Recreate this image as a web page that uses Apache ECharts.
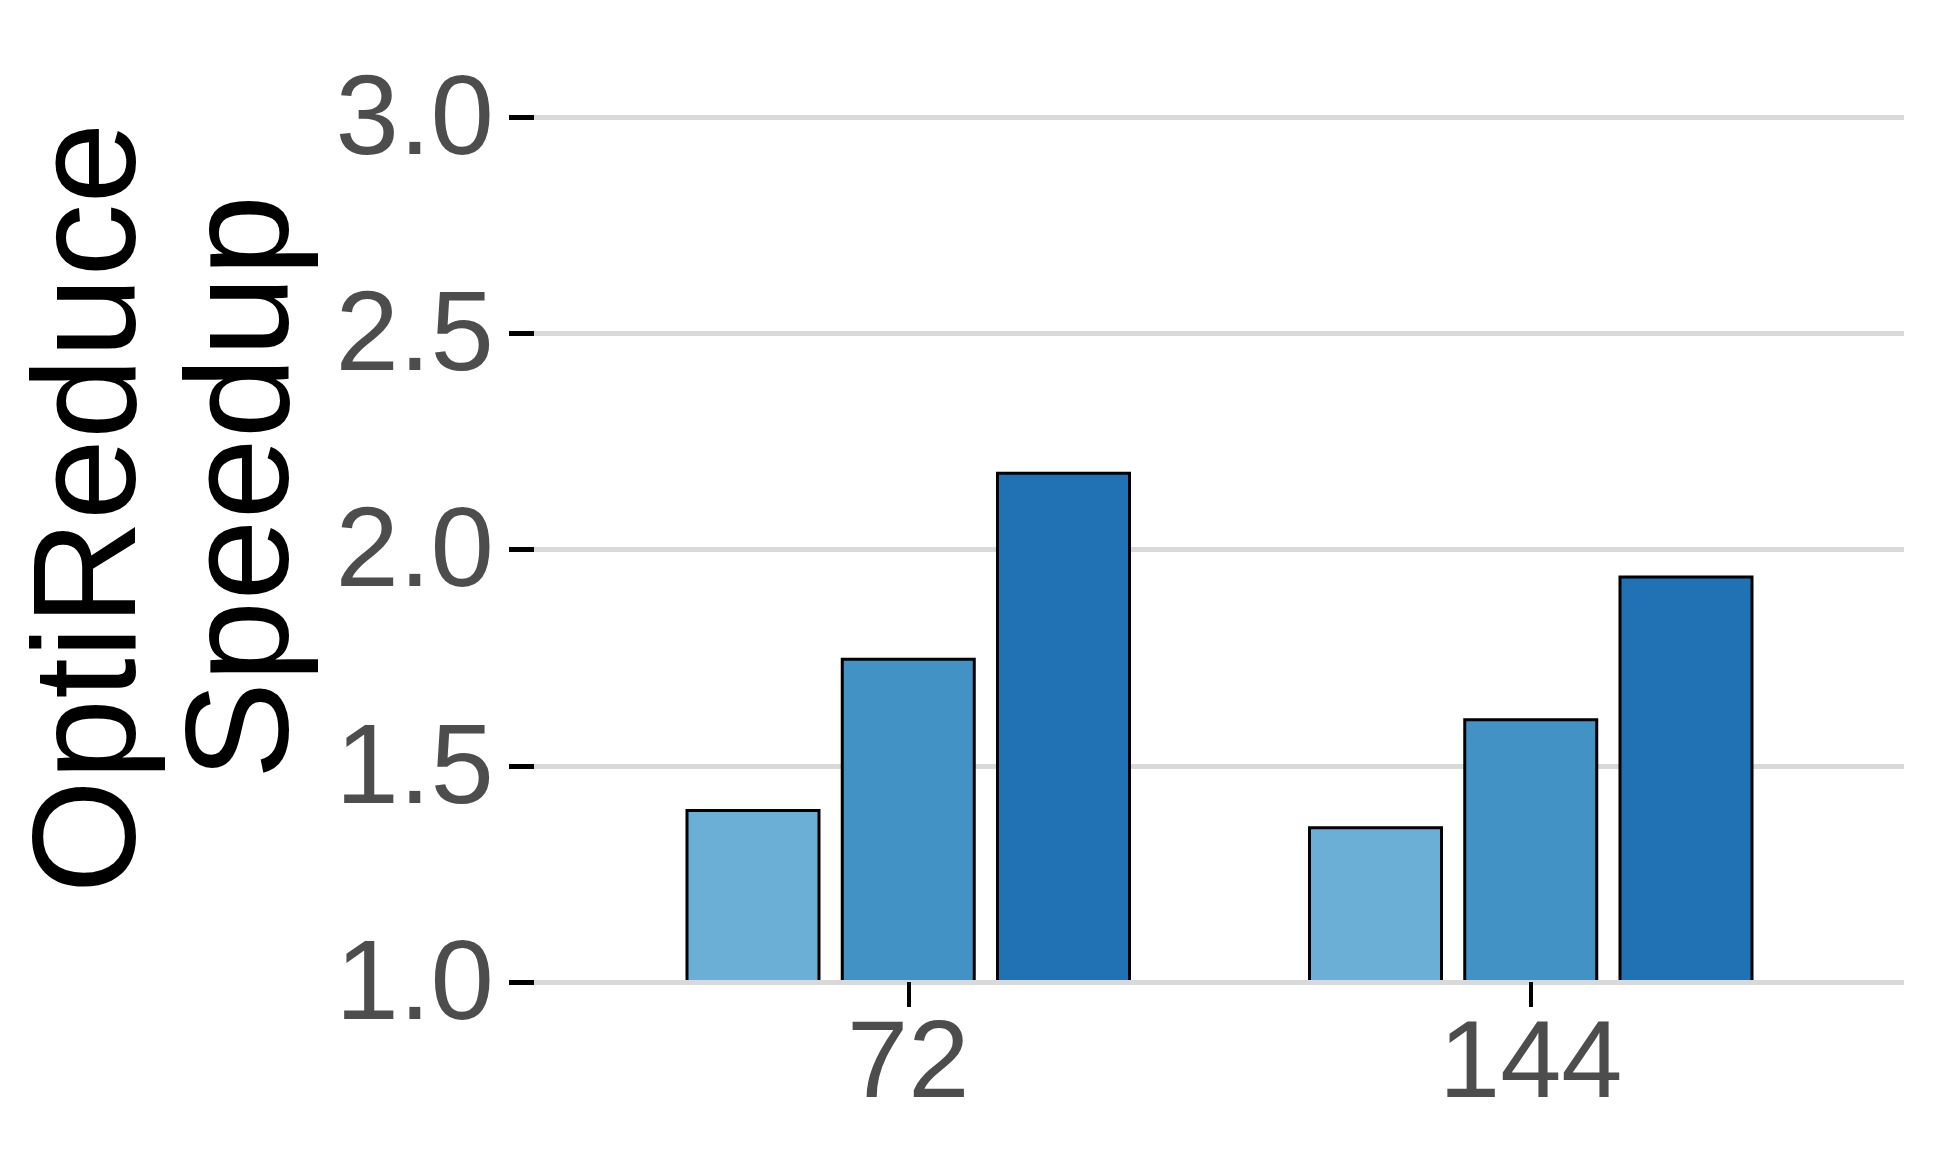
<!DOCTYPE html>
<html>
<head>
<meta charset="utf-8">
<script src="https://cdn.jsdelivr.net/npm/echarts@6/dist/echarts.min.js"></script>
<style>
html,body{margin:0;padding:0;background:#fff;}
#chart{width:1937px;height:1160px;}
</style>
</head>
<body>
<div id="chart"></div>
<script>
// ---- data ----
const categories = ['72', '144'];
const seriesA = [1.40, 1.36];
const seriesB = [1.75, 1.61];
const seriesC = [2.18, 1.94];
const yMin = 1.0, yMax = 3.0, yStep = 0.5;
const titleLines = ['OptiReduce', 'Speedup'];

const FONT = '"Liberation Sans", Helvetica, Arial, sans-serif';
const colors = ['#6baed6', '#4292c6', '#2171b5'];
const gridGray = '#d9d9d9';

const chart = echarts.init(document.getElementById('chart'), null, {renderer: 'canvas'});

function barSeries(name, data, color, withBase) {
  const s = {
    name: name,
    type: 'bar',
    xAxisIndex: 1,
    yAxisIndex: 1,
    data: data,
    barWidth: 135,
    barGap: '15%',
    clip: true,
    itemStyle: {color: color, borderColor: '#000', borderWidth: 3},
    z: 3
  };
  if (withBase) {
    s.markLine = {
      silent: true, symbol: 'none', animation: false,
      label: {show: false},
      lineStyle: {color: gridGray, width: 5, type: 'solid'},
      data: [{yAxis: yMin}],
      z: 10
    };
  }
  return s;
}

const option = {
  backgroundColor: '#fff',
  animation: false,
  grid: [
    {left: 534, right: 33, top: 117, bottom: 178},
    {left: 597, right: 95, top: 117, bottom: 178}
  ],
  xAxis: [
    {gridIndex: 0, type: 'value', show: false, min: 0, max: 1},
    {
      gridIndex: 1, type: 'category', data: categories, z: 20,
      axisLine: {show: false},
      axisTick: {show: true, alignWithLabel: true, length: 25, lineStyle: {color: '#000', width: 4}},
      axisLabel: {fontSize: 110, color: '#4d4d4d', fontFamily: FONT, margin: 30},
      splitLine: {show: false}
    }
  ],
  yAxis: [
    {
      gridIndex: 0, type: 'value', min: yMin, max: yMax, interval: yStep,
      axisLine: {show: false},
      axisTick: {show: true, length: 25, lineStyle: {color: '#000', width: 5}},
      axisLabel: {margin: 40,
        formatter: v => '{t|' + v.toFixed(1) + '}',
        rich: {t: {fontSize: 114, color: '#4d4d4d', fontFamily: FONT, padding: [11, 0, 0, 0]}}},
      splitLine: {show: true, lineStyle: {color: gridGray, width: 5}}
    },
    {gridIndex: 1, type: 'value', min: yMin, max: yMax, interval: yStep, show: false,
      splitLine: {show: false}}
  ],
  graphic: [
    {type: 'text', x: 95, y: 508, rotation: Math.PI / 2,
      style: {text: titleLines[0], fontSize: 146, fontFamily: FONT, fill: '#000',
        textAlign: 'center', textVerticalAlign: 'middle'}},
    {type: 'text', x: 248, y: 487, rotation: Math.PI / 2,
      style: {text: titleLines[1], fontSize: 146, fontFamily: FONT, fill: '#000',
        textAlign: 'center', textVerticalAlign: 'middle'}}
  ],
  series: [
    barSeries('a', seriesA, colors[0], true),
    barSeries('b', seriesB, colors[1], false),
    barSeries('c', seriesC, colors[2], false)
  ]
};
chart.setOption(option);
</script>
</body>
</html>
